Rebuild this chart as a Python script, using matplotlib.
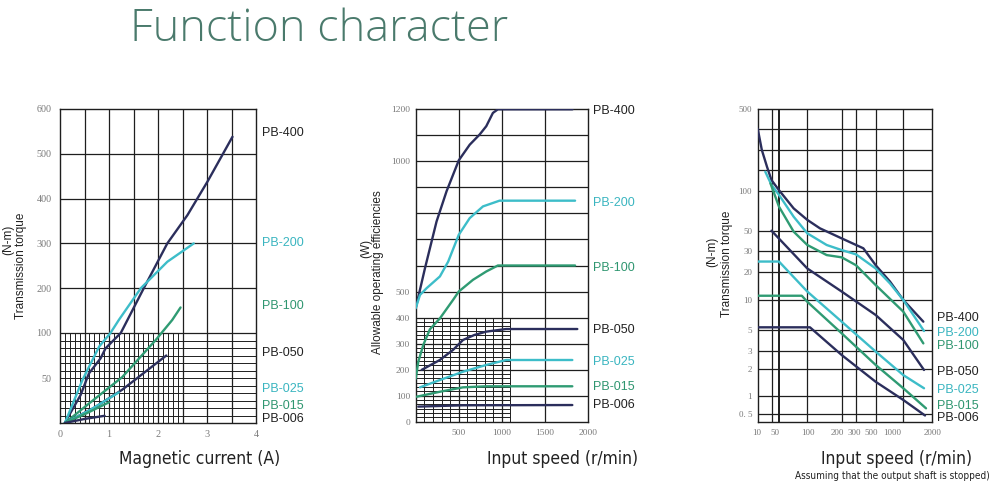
import numpy as np
import matplotlib
matplotlib.use('Agg')
import matplotlib.pyplot as plt
import matplotlib.transforms as mtransforms
from matplotlib import font_manager

plt.rcParams['font.family'] = ['Liberation Sans', 'DejaVu Sans']

NAMES = ['PB-400', 'PB-200', 'PB-100', 'PB-050', 'PB-025', 'PB-015', 'PB-006']
NAVY, CYAN, GREEN = '#2b2e5c', '#3dbdc9', '#2f9b73'
LINE_COLORS = [NAVY, CYAN, GREEN, NAVY, CYAN, GREEN, NAVY]
TEXT_COLORS = ['#222222', '#3ab5c0', '#2f9670', '#222222', '#3ab5c0', '#2f9670', '#222222']
GRID = '#1e1e1e'

# panel 1: torque (N-m) vs magnetic current (A)
current_x = [
    [0.1, 0.2, 0.42, 0.59, 0.83, 0.93, 1.24, 1.71, 2.19, 2.6, 3.01, 3.52],
    [0.1, 0.46, 0.8, 1.03, 1.2, 1.65, 2.19, 2.73],
    [0.1, 0.6, 1.27, 1.95, 2.29, 2.46],
    [0.1, 0.7, 1.27, 2.17],
    [0.1, 0.6, 1.2],
    [0.1, 0.55, 1.0],
    [0.1, 0.5, 0.91],
]
current_torque = [
    [0, 10, 31, 55, 72, 83, 100, 200, 300, 363, 438, 538],
    [0, 48, 85, 100, 129, 200, 259, 300],
    [0, 22, 51, 92, 129, 157],
    [0, 17, 37, 75],
    [0, 14, 34],
    [0, 11, 23],
    [0, 4.5, 8],
]

# panel 2: allowable power (W) vs input speed (r/min)
speed_x = [
    [0, 108, 242, 358, 500, 627, 742, 819, 896, 954, 1820],
    [0, 50, 127, 281, 377, 500, 627, 781, 973, 1850],
    [0, 30, 88, 165, 281, 434, 500, 665, 819, 954, 1850],
    [69, 280, 434, 549, 680, 819, 1050, 1876],
    [50, 280, 549, 819, 1050, 1818],
    [11, 280, 549, 819, 1818],
    [30, 549, 1818],
]
speed_power = [
    [436, 590, 769, 885, 1004, 1064, 1103, 1135, 1186, 1200, 1200],
    [436, 487, 513, 558, 615, 718, 782, 827, 849, 849],
    [165, 230, 295, 355, 397, 468, 500, 545, 577, 600, 600],
    [199, 237, 276, 314, 333, 346, 356, 356],
    [132, 160, 192, 218, 237, 237],
    [96, 115, 132, 136, 136],
    [58, 63, 64],
]

# panel 3: torque (N-m) vs input speed, output shaft stopped
slip_x = [
    [10, 13.9, 21, 30, 50, 71.6, 100, 129, 200, 363, 500, 716, 1000, 1631],
    [18.3, 30, 50, 71.6, 100, 147.7, 200, 300, 500, 716, 1000, 1658],
    [27.6, 50, 71.6, 100, 147.7, 200, 300, 500, 1000, 1631],
    [30, 100, 200, 500, 1000, 1658],
    [10, 50, 100, 200, 500, 1000, 1658],
    [10, 87.4, 100, 200, 500, 1000, 1741],
    [10, 105.5, 200, 500, 1000, 1699],
]
slip_torque = [
    [305, 200, 157, 123, 101, 73.6, 60.3, 52.1, 41.2, 32.1, 22.7, 15.7, 10, 6.06],
    [145, 112, 93, 63.7, 46.8, 34.9, 30.7, 28.1, 21.3, 15.0, 10, 4.88],
    [115.5, 75.8, 48.8, 34.9, 27.7, 26.5, 22.7, 14.4, 7.64, 3.61],
    [50, 21.3, 12.3, 7.07, 3.92, 1.95],
    [24.4, 24.4, 12.3, 6.06, 2.96, 1.71, 1.22],
    [11.1, 11.1, 9.6, 4.61, 2.19, 1.22, 0.627],
    [5.32, 5.32, 2.74, 1.44, 0.86, 0.483],
]

W, H = 1000, 495

# a condensed face for the axis captions, if one is installed
cond = [f.fname for f in font_manager.fontManager.ttflist
        if f.name in ('DejaVu Sans', 'Liberation Sans Narrow', 'Noto Sans')
        and f.stretch not in ('normal', 500) and f.weight in ('normal', 400)
        and f.style == 'normal']
CAPTION = dict(fontproperties=font_manager.FontProperties(fname=cond[0], size=12.5)) if cond \
    else dict(fontsize=12.3, family=['Liberation Sans', 'DejaVu Sans'])
NOTE = dict(fontproperties=font_manager.FontProperties(fname=cond[0], size=7.2)) if cond \
    else dict(fontsize=6.8, family=['Liberation Sans', 'DejaVu Sans'])


def box(l, t, r, b):
    return [l / W, 1 - b / H, (r - l) / W, (b - t) / H]


def piecewise(vals, pix, log=False):
    v = np.log10(vals) if log else np.asarray(vals, float)
    p = np.asarray(pix, float)

    def fwd(x):
        x = np.asarray(x, float)
        if log:
            x = np.log10(np.clip(x, 1e-9, None))
        return np.interp(x, v, p)

    def inv(y):
        r = np.interp(y, p, v)
        return 10 ** r if log else r
    return fwd, inv


def style(ax, xt, xl, yt, yl, ypad, size):
    for s in ax.spines.values():
        s.set_color(GRID)
        s.set_linewidth(1.0)
    tk = dict(fontfamily='Liberation Serif', fontsize=size, color='#7a7a7a')
    ax.set_xticks(xt, xl, **tk)
    ax.set_yticks(yt, yl, **tk)
    ax.minorticks_off()
    ax.tick_params(axis='x', length=0, pad=5)
    ax.tick_params(axis='y', length=0, pad=ypad)


def curves(ax, xs, ys):
    for x, y, c in zip(xs, ys, LINE_COLORS):
        ax.plot(x, y, color=c, lw=1.7, solid_capstyle='round', zorder=3)


def names(x, ys):
    for n, y, c in zip(NAMES, ys, TEXT_COLORS):
        fig.text(x / W, 1 - y / H, n, fontsize=9, color=c, va='center', ha='left')


fig = plt.figure(figsize=(10, 4.95), dpi=100)

# ---- panel 1
ax1 = fig.add_axes(box(60, 109, 256, 423))
ax1.set_yscale('function', functions=piecewise([0, 100, 600], [0, 90, 314]))
ax1.set_xlim(0, 4)
ax1.set_ylim(0, 600)
kw = dict(color=GRID, zorder=1)
ax1.vlines(np.arange(0.5, 4, 0.5), 0, 600, lw=0.9, **kw)
ax1.hlines(np.arange(100, 600, 100), 0, 4, lw=0.9, **kw)
ax1.hlines(np.linspace(0, 100, 13)[1:-1], 0, 4, lw=0.7, **kw)
fine = [v for v in np.round(np.arange(0.1, 2.51, 0.1), 2) if abs(v * 2 - round(v * 2)) > 1e-6]
ax1.vlines(fine, 0, 100, lw=0.7, **kw)
curves(ax1, current_x, current_torque)
style(ax1, [0, 1, 2, 3, 4], ['0', '1', '2', '3', '4'],
      [50, 100, 200, 300, 400, 500, 600], ['50', '100', '200', '300', '400', '500', '600'], 6, 7.3)
names(262, [133, 243, 306, 353, 389, 406, 419])

# ---- panel 2
ax2 = fig.add_axes(box(415.7, 109.3, 588, 421.7))
ax2.set_xlim(0, 2000)
ax2.set_ylim(0, 1200)
ax2.vlines([500, 1000, 1500], 0, 1200, lw=0.9, **kw)
ax2.hlines(np.arange(100, 1200, 100), 0, 2000, lw=0.9, **kw)
ax2.vlines(np.arange(100, 1101, 100), 0, 400, lw=0.7, **kw)
ax2.hlines(np.linspace(0, 400, 25)[1:-1], 0, 1100, lw=0.7, **kw)
curves(ax2, speed_x, speed_power)
style(ax2, [500, 1000, 1500, 2000], ['500', '1000', '1500', '2000'],
      [0, 100, 200, 300, 400, 500, 1000, 1200],
      ['0', '100', '200', '300', '400', '500', '1000', '1200'], 4, 6.8)
names(593, [111, 203, 268, 330, 362, 387, 405])

# ---- panel 3
ax3 = fig.add_axes(box(757.7, 109.3, 931.7, 422))
ax3.set_xscale('function', functions=piecewise(
    [10, 30, 50, 100, 200, 300, 500, 1000, 2000],
    [0, 13.8, 21.3, 49.6, 84, 98.3, 118, 145.6, 174], log=True))
ax3.set_yscale('function', functions=piecewise(
    [0.4, 0.5, 1, 2, 3, 5, 10, 20, 30, 50, 100, 150, 200, 300, 500],
    [0, 7.7, 26, 53, 71, 92, 122, 150.3, 171, 191.3, 231.3, 252, 272, 292.7, 312.7], log=True))
ax3.set_xlim(10, 2000)
ax3.set_ylim(0.4, 500)
ax3.vlines([30, 100, 200, 300, 500, 1000], 0.4, 500, lw=0.9, **kw)
ax3.vlines([50], 0.4, 500, lw=1.4, **kw)
ax3.hlines([0.5, 1, 2, 3, 5, 10, 20, 30, 50, 100, 150, 200, 300], 10, 2000, lw=0.9, **kw)
curves(ax3, slip_x, slip_torque)
style(ax3, [10, 50, 100, 200, 300, 500, 1000, 2000],
      ['10', '50', '100', '200', '300', '500', '1000', '2000'],
      [0.5, 1, 2, 3, 5, 10, 20, 30, 50, 100, 500],
      ['0. 5', '1', '2', '3', '5', '10', '20', '30', '50', '100', '500'], 4, 6.5)
# the printed speed labels sit a little off their grid lines
label_shift = [-1, -4, 1, -4.5, -2, -4.5, -11, 0.5]
for lbl, dx in zip(ax3.get_xticklabels(), label_shift):
    lbl.set_transform(lbl.get_transform() + mtransforms.ScaledTranslation(dx / 100, 0, fig.dpi_scale_trans))
names(937, [318, 333, 346, 372, 390, 406, 418])


# ---- texts
def vtext(x, y, s, size=8.5):
    fig.text(x / W, 1 - y / H, s, rotation=90, ha='center', va='center', fontsize=size, color='#222222')


vtext(8, 240, '(N-m)')
vtext(21, 266, 'Transmission torque')
vtext(366, 248, '(W)')
vtext(378, 272, 'Allowable operating efficiencies')
vtext(712, 252, '(N-m)')
vtext(727, 264, 'Transmission torque')

for cx, s in [(200, 'Magnetic current (A)'), (563, 'Input speed (r/min)'), (897, 'Input speed (r/min)')]:
    fig.text(cx / W, 1 - 459 / H, s, ha='center', va='center', color='#222222', **CAPTION)
fig.text(892 / W, 1 - 476 / H, 'Assuming that the output shaft is stopped)', ha='center',
         va='center', color='#222222', **NOTE)

fig.text(130 / W, 1 - 41 / H, 'Function character', ha='left', va='baseline',
         fontsize=32.5, fontweight='light', family=['Open Sans', 'DejaVu Sans'], color='#4a7a6c')

fig.savefig('out.png', dpi=100)
